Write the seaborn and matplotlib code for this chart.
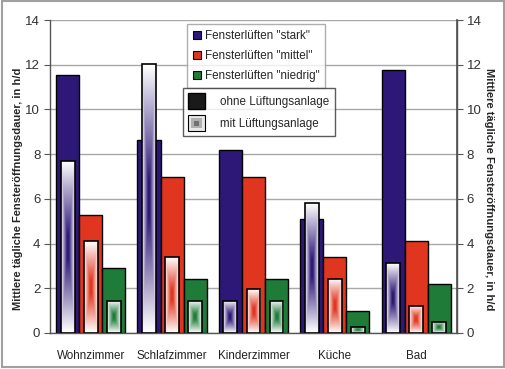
import numpy as np
import pandas as pd
import matplotlib
matplotlib.use("Agg")
import matplotlib.pyplot as plt
import seaborn as sns
from matplotlib.patches import Patch, Rectangle
from matplotlib.legend_handler import HandlerBase
from matplotlib.colors import to_rgb

# --- Daten ---
kategorien = ["Wohnzimmer", "Schlafzimmer", "Kinderzimmer", "Küche", "Bad"]
stufen = ['Fensterlüften "stark"', 'Fensterlüften "mittel"', 'Fensterlüften "niedrig"']

ohne_stark = [11.55, 8.65, 8.2, 5.08, 11.78]
ohne_mittel = [5.3, 6.98, 6.98, 3.4, 4.1]
ohne_niedrig = [2.92, 2.42, 2.42, 0.98, 2.18]

mit_stark = [7.7, 12.02, 1.45, 5.8, 3.12]
mit_mittel = [4.1, 3.38, 1.95, 2.43, 1.22]
mit_niedrig = [1.45, 1.45, 1.45, 0.28, 0.5]

farben = ["#2D1877", "#E0361F", "#1E7B38"]

df_ohne = pd.DataFrame({
    "raum": kategorien * 3,
    "stufe": np.repeat(stufen, len(kategorien)),
    "dauer": ohne_stark + ohne_mittel + ohne_niedrig,
})
df_mit = pd.DataFrame({
    "raum": kategorien * 3,
    "stufe": np.repeat(stufen, len(kategorien)),
    "dauer": mit_stark + mit_mittel + mit_niedrig,
})

sns.set_theme(style="white")
plt.rcParams["font.family"] = ["Liberation Sans", "DejaVu Sans"]

fig = plt.figure(figsize=(5.06, 3.69), dpi=100)
ax = fig.add_axes([0.0988, 0.0976, 0.8042, 0.848])


def verlauf(farbe, n=80):
    u = np.linspace(-1, 1, n)
    U, V = np.meshgrid(u, u)
    t = 1 - np.maximum(np.abs(U), np.abs(V))
    t = np.clip(t * 1.15, 0, 1)
    c = np.array(to_rgb(farbe))
    return (1 - t)[..., None] * np.ones(3) + t[..., None] * c


# ohne Lueftungsanlage: breite Balken
sns.barplot(data=df_ohne, x="raum", y="dauer", hue="stufe", palette=farben,
            width=0.85, edgecolor="black", linewidth=1.0, saturation=1,
            legend=False, ax=ax, zorder=2)
# mit Lueftungsanlage: schmale Balken mit Verlauf
sns.barplot(data=df_mit, x="raum", y="dauer", hue="stufe", palette=farben,
            width=0.85, edgecolor="black", linewidth=1.2, saturation=1,
            legend=False, ax=ax, zorder=3)

schmal = 0.17
for i, cont in enumerate(ax.containers[3:6]):
    for p in cont.patches:
        mitte = p.get_x() + p.get_width() / 2
        p.set_x(mitte - schmal / 2)
        p.set_width(schmal)
        p.set_facecolor("none")
        img = ax.imshow(verlauf(farben[i]), extent=[mitte - schmal / 2, mitte + schmal / 2, 0, p.get_height()],
                        aspect="auto", origin="lower", zorder=2.9, interpolation="bilinear")
        img.set_clip_path(p)

ax.set_xlim(-0.5, 4.5)
ax.set_ylim(0, 14)
ax.set_yticks(range(0, 15, 2))
ax.yaxis.grid(True, color="#A8A8A8", linewidth=1.0)
ax.set_axisbelow(True)
ax.set_xlabel("")
ax.set_ylabel("Mittlere tägliche Fensteröffnungsdauer, in h/d", fontsize=8,
              fontweight="bold")
ax.yaxis.set_label_coords(-0.066, 0.46)
ax.tick_params(axis="y", left=True, length=4, width=0.8, color="#555555",
               labelsize=9.5, labelcolor="#333333", pad=3)
ax.tick_params(axis="x", bottom=False, labelsize=8.4, labelcolor="#222222", pad=6)

for s in ["left", "bottom", "right"]:
    ax.spines[s].set_color("#555555")
    ax.spines[s].set_linewidth(1.0)
ax.spines["top"].set_visible(False)

ax2 = ax.twinx()
ax2.set_ylim(0, 14)
ax2.set_yticks(range(0, 15, 2))
ax2.tick_params(axis="y", right=True, length=4, width=0.8, color="#555555",
                labelsize=9.5, labelcolor="#333333", pad=3)
ax2.set_ylabel("Mittlere tägliche Fensteröffnungsdauer, in h/d", fontsize=8,
               fontweight="bold", rotation=-90)
ax2.yaxis.set_label_coords(1.092, 0.46)
for s in ["top", "left", "bottom"]:
    ax2.spines[s].set_visible(False)
ax2.spines["right"].set_color("#555555")

# Legende 1: Stufen
h1 = [Patch(facecolor=f, edgecolor="black", linewidth=0.8) for f in farben]
leg1 = fig.legend(h1, stufen, loc="upper left", bbox_to_anchor=(0.3696, 0.935),
                  fontsize=8.4, frameon=True, fancybox=False, handlelength=0.7,
                  handleheight=0.7, handletextpad=0.3, labelspacing=0.68,
                  borderpad=0.5, borderaxespad=0)
leg1.get_frame().set_edgecolor("#9A9A9A")
leg1.get_frame().set_linewidth(1.0)


class VerlaufHandler(HandlerBase):
    def create_artists(self, legend, orig_handle, xdescent, ydescent, width,
                       height, fontsize, trans):
        arts = []
        grau = ["#E8E8E8", "#B0B0B0", "#707070", "#303030"]
        for k, g in enumerate(grau):
            f = k * 0.17
            r = Rectangle((-xdescent + width * f, -ydescent + height * f),
                          width * (1 - 2 * f), height * (1 - 2 * f),
                          facecolor=g, edgecolor="black" if k == 0 else "none",
                          linewidth=0.8, transform=trans)
            arts.append(r)
        return arts


class SchwarzHandler(HandlerBase):
    def create_artists(self, legend, orig_handle, xdescent, ydescent, width,
                       height, fontsize, trans):
        return [Rectangle((-xdescent, -ydescent), width, height,
                          facecolor="#1A1A1A", edgecolor="black", transform=trans)]


leg2 = fig.legend([Patch(), Rectangle((0, 0), 1, 1)],
                  ["ohne Lüftungsanlage", "mit Lüftungsanlage"],
                  handler_map={Patch: SchwarzHandler(), Rectangle: VerlaufHandler()},
                  loc="upper left", bbox_to_anchor=(0.3617, 0.7615), fontsize=8.4,
                  frameon=True, fancybox=False, handlelength=1.45, handleheight=1.7,
                  handletextpad=1.3, labelspacing=0.55, borderpad=0.45,
                  borderaxespad=0)
leg2.get_frame().set_edgecolor("#333333")
leg2.get_frame().set_linewidth(1.0)

fig.patches.append(Rectangle((0.004, 0.006), 0.992, 0.99, transform=fig.transFigure,
                             fill=False, edgecolor="#A0A0A0", linewidth=1.5))

fig.savefig("out.png", dpi=100)
